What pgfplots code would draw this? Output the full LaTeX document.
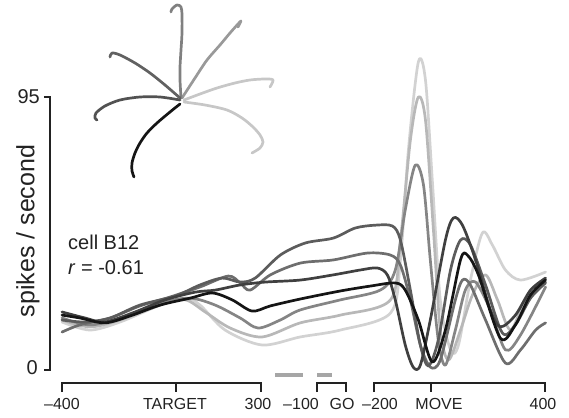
\documentclass[border=0pt]{standalone}
\usepackage{pgfplots}
\pgfplotsset{compat=1.18}
\usepackage{fontspec}
\setmainfont{Liberation Sans}
\definecolor{cA}{HTML}{151515}
\definecolor{cB}{HTML}{404040}
\definecolor{cC}{HTML}{5C5C5C}
\definecolor{cD}{HTML}{6E6E6E}
\definecolor{cE}{HTML}{858585}
\definecolor{cF}{HTML}{B8B8B8}
\definecolor{cG}{HTML}{D2D2D2}
\definecolor{txt}{HTML}{222222}
\begin{document}
\begin{tikzpicture}
\begin{axis}[
  at={(0pt,0pt)}, anchor=south west,
  scale only axis, width=483pt, height=273pt,
  xmin=-400, xmax=1297, ymin=0, ymax=95,
  axis lines=none, ticks=none, clip=false,
  every axis plot/.append style={smooth, tension=0.5, line width=2.7pt, line join=round, line cap=round},
]
% lightest
\addplot[cG] coordinates {(-400,16.7) (-302,13.9) (-196,16.7) (-55,22.6) (33,25.0) (85,22.6) (173,13.9) (303,8.7) (437,11.5) (578,13.9) (754,19.8) (789,38.3) (817,76.5) (852,107.2) (877,100.9) (901,66.1) (929,24.4) (965,7.0) (993,8.7) (1035,31.3) (1077,47.7) (1112,43.5) (1158,34.8) (1211,31.3) (1299,34.1)};
\addplot[cF] coordinates {(-400,17.4) (-302,15.0) (-196,17.4) (-55,22.6) (33,24.4) (103,20.2) (191,14.6) (303,11.5) (437,16.4) (578,19.1) (754,24.4) (789,45.2) (824,80.0) (852,95.0) (877,87.0) (905,48.7) (929,13.9) (958,3.5) (1000,13.9) (1042,26.1) (1088,33.1) (1130,24.4) (1176,13.9) (1228,24.4) (1299,30.6)};
\addplot[cE] coordinates {(-400,18.1) (-302,15.7) (-196,18.1) (-55,23.3) (50,25.0) (138,22.6) (226,18.1) (289,14.6) (367,17.4) (437,20.9) (578,24.4) (718,27.8) (771,34.8) (806,55.7) (841,71.3) (870,64.4) (894,38.3) (922,10.4) (947,1.7) (982,13.9) (1017,27.8) (1053,30.6) (1105,20.9) (1158,7.0) (1211,12.2) (1299,28.9)};
\addplot[cD] coordinates {(-400,13.2) (-337,15.7) (-231,18.1) (-126,22.3) (-20,25.4) (85,28.9) (184,32.7) (226,30.3) (261,27.8) (332,33.1) (437,37.2) (553,38.3) (673,40.7) (754,40.0) (789,36.5) (824,24.4) (859,8.7) (894,1.0) (929,3.5) (982,24.4) (1007,31.3) (1035,29.6) (1088,17.4) (1158,2.4) (1211,7.0) (1264,13.9) (1299,16.4)};
\addplot[cC] coordinates {(-400,17.4) (-319,16.7) (-231,18.1) (-126,22.6) (-3,25.7) (85,29.6) (163,32.0) (226,30.6) (279,32.0) (367,40.0) (455,44.2) (553,45.9) (630,49.4) (701,50.4) (761,50.1) (789,45.2) (824,27.8) (859,8.7) (887,1.4) (922,10.4) (965,34.8) (1000,45.2) (1035,43.5) (1088,29.6) (1147,12.9) (1193,15.7) (1246,25.0) (1299,30.3)};
\addplot[cB] coordinates {(-400,20.2) (-319,18.1) (-249,16.7) (-143,20.2) (-38,24.4) (68,27.1) (138,27.8) (226,29.6) (314,30.6) (437,31.3) (553,33.1) (648,34.8) (708,35.5) (743,33.1) (771,24.4) (806,8.7) (834,1.0) (859,1.7) (894,17.4) (947,45.2) (975,52.9) (1007,50.4) (1053,38.3) (1105,20.9) (1140,15.0) (1193,19.1) (1246,27.8) (1299,32.0)};
\addplot[cA] coordinates {(-400,19.1) (-337,18.1) (-249,16.4) (-161,18.8) (-55,22.6) (50,25.0) (128,26.8) (198,24.4) (268,20.5) (332,22.3) (437,24.7) (578,27.5) (683,29.2) (771,30.3) (806,27.8) (852,17.4) (901,2.8) (947,13.9) (1000,38.3) (1024,40.0) (1063,33.1) (1140,11.1) (1193,15.7) (1246,26.1) (1299,31.3)};
% gray bars
\addplot[black!35, line width=4pt, line cap=butt, sharp plot] coordinates {(349,-1.74) (448,-1.74)};
\addplot[black!35, line width=4pt, line cap=butt, sharp plot] coordinates {(497,-1.74) (548,-1.74)};
\end{axis}
% inset trajectories (pixel-based arbitrary units)
\begin{axis}[
  at={(28pt,370pt)}, anchor=north west,
  scale only axis, width=200pt, height=185pt,
  xmin=90, xmax=290, ymin=0, ymax=185, y dir=reverse,
  axis lines=none, ticks=none, clip=false,
  every axis plot/.append style={smooth, tension=0.5, line width=2.7pt, line join=round, line cap=round},
]
\addplot[color=black!22] coordinates {(184,102) (205,105) (227,110) (242,118) (253,127) (260,135) (263,142) (260,148) (252,153)};
\addplot[color=black!22] coordinates {(184,100) (200,94) (217,88) (235,83) (250,80) (265,79) (273,80) (270,87)};
\addplot[color=black!40] coordinates {(182,98) (195,78) (207,60) (220,45) (230,33) (238,24) (241,21) (238,27)};
\addplot[color=black!50] coordinates {(181,98) (180,80) (180,67) (181,50) (182,33) (182,15) (181,7) (177,5) (172,9) (171,12)};
\addplot[color=black!62] coordinates {(180,98) (165,85) (150,73) (135,63) (120,55) (112,53) (110,57)};
\addplot[color=black!68] coordinates {(180,100) (160,97) (140,97) (120,100) (105,106) (96,113) (95,118) (97,120)};
\addplot[color=cA] coordinates {(180,104) (170,112) (157,123) (147,133) (140,143) (135,153) (132,163) (132,171) (134,177)};
\end{axis}
% y axis
\draw[txt, line width=2.2pt, line join=miter] (-18pt,273pt) -- (-12pt,273pt) -- (-12pt,0pt) -- (-18pt,0pt);
\node[txt, anchor=east, font=\fontsize{20}{22}\selectfont, inner sep=0pt] at (-22pt,273pt) {95};
\node[txt, anchor=east, font=\fontsize{20}{22}\selectfont, inner sep=0pt] at (-24pt,2pt) {0};
\node[txt, rotate=90, font=\fontsize{25}{27}\selectfont, inner sep=0pt] at (-34pt,139pt) {spikes / second};
% cell text
\node[txt, anchor=west, font=\fontsize{20}{22}\selectfont, inner sep=0pt] at (6pt,128pt) {cell B12};
\node[txt, anchor=west, font=\fontsize{20}{22}\selectfont, inner sep=0pt] at (6pt,102pt) {\textit{r} = -0.61};
% brackets
\begin{scope}[txt, line width=2.2pt, line join=miter]
\draw (0pt,-22pt) -- (0pt,-13pt) -- (199pt,-13pt) -- (199pt,-22pt);
\draw (113.7pt,-13pt) -- (113.7pt,-22pt);
\draw (255pt,-22pt) -- (255pt,-13pt) -- (284pt,-13pt) -- (284pt,-22pt);
\draw (312pt,-22pt) -- (312pt,-13pt) -- (483pt,-13pt) -- (483pt,-22pt);
\draw (369pt,-13pt) -- (369pt,-22pt);
\end{scope}
\begin{scope}[every node/.style={txt, font=\fontsize{16}{18}\selectfont, inner sep=0pt}]
\node at (0pt,-34pt) {--400};
\node at (113pt,-34pt) {TARGET};
\node at (196pt,-34pt) {300};
\node at (239pt,-34pt) {--100};
\node at (280pt,-34pt) {GO};
\node at (318pt,-34pt) {--200};
\node at (377pt,-34pt) {MOVE};
\node at (481pt,-34pt) {400};
\end{scope}
\path (-62pt,-47pt) rectangle (507pt,370pt);
\end{tikzpicture}
\end{document}
